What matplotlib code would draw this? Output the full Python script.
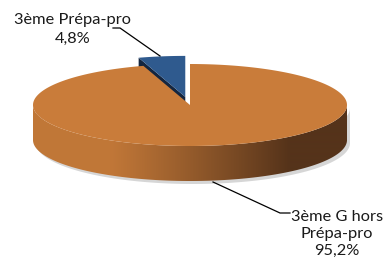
import numpy as np
import matplotlib
matplotlib.use("Agg")
import matplotlib.pyplot as plt
from matplotlib.patches import Polygon

# data (first slice starts at 12 o'clock, clockwise like Excel)
categories = ["3ème G hors\nPrépa-pro", "3ème Prépa-pro"]
values = [95.2, 4.8]
pct_labels = ["95,2%", "4,8%"]
explode = [0.0, 0.2]

top_colors = ["#C97C3A", "#2F5A8E"]
side_dark = ["#55331A", "#142640"]

# geometry of the fake 3d pie, in pixel coords
cx, cy = 190, 105
a, b = 157, 41
depth = 35

fig = plt.figure(figsize=(3.9, 2.62), dpi=100)
ax = fig.add_axes([0, 0, 1, 1])
ax.set_xlim(0, 390)
ax.set_ylim(262, 0)
ax.axis("off")


def pt(t, ox, oy, dz=0):
    return cx + ox + a * np.cos(t), cy + oy - b * np.sin(t) + dz


# slice angles (math convention, degrees)
total = sum(values)
spans = []
start = 90.0
for v in values:
    sweep = 360.0 * v / total
    spans.append((start - sweep, start))
    start -= sweep

orange_rgb = np.array(matplotlib.colors.to_rgb(top_colors[0]))
dark_rgb = np.array(matplotlib.colors.to_rgb(side_dark[0]))

# soft shadow under the front wall
ts = np.radians(np.linspace(180, 360, 120))
sx = cx + 3 + a * np.cos(ts)
sy = cy + 3 - b * np.sin(ts) + depth
shadow = list(zip(sx, sy)) + list(zip(sx[::-1], sy[::-1] - depth))
ax.add_patch(Polygon(shadow, closed=True, facecolor="#BBBBBB", edgecolor="none",
                     alpha=0.6, zorder=1))

# draw back slice (blue) first, then big slice in front
order = [1, 0]
for i in order:
    t0, t1 = spans[i]
    mid = np.radians((t0 + t1) / 2)
    ox = a * explode[i] * np.cos(mid)
    oy = -b * explode[i] * np.sin(mid)
    if t1 < t0:
        t0, t1 = t1, t0
    th = np.radians(np.linspace(t0, t1, 300))

    # radial wall on the left edge of the small slice
    if i == 1:
        e = np.radians(t1)
        p_out = pt(e, ox, oy)
        p_c = (cx + ox, cy + oy)
        wall = [p_c, p_out, (p_out[0], p_out[1] + depth), (p_c[0], p_c[1] + depth)]
        ax.add_patch(Polygon(wall, closed=True, facecolor=side_dark[i],
                             edgecolor="none", zorder=2))

    # outer wall, front half only, shaded left to right
    if i == 0:
        tt = np.radians(np.linspace(180, 360, 200))
        upper = [pt(t, ox, oy) for t in tt]
        lower = [pt(t, ox, oy, depth) for t in tt[::-1]]
        side = Polygon(upper + lower, closed=True, facecolor="none",
                       edgecolor="none", zorder=3)
        ax.add_patch(side)
        gx = np.linspace(0, 390, 390)
        f = np.clip((gx - 110) / (290 - 110), 0, 1) ** 1.1
        grad = (orange_rgb * 0.96)[None, :] * (1 - f)[:, None] + dark_rgb[None, :] * f[:, None]
        img = ax.imshow(grad[None, :, :], extent=(0, 390, 262, 0), aspect="auto",
                        interpolation="bilinear", zorder=3)
        img.set_clip_path(side)

    # top face
    xs = cx + ox + a * np.cos(th)
    ys = cy + oy - b * np.sin(th)
    verts = [(cx + ox, cy + oy)] + list(zip(xs, ys))
    ax.add_patch(Polygon(verts, closed=True, facecolor=top_colors[i],
                         edgecolor="none", zorder=4 if i == 0 else 2.5))

ax.set_xlim(0, 390)
ax.set_ylim(262, 0)

# labels with leader lines
font = dict(family=["Lato", "DejaVu Sans"], fontsize=11.8, color="#1A1A1A")
ax.text(73, 29, categories[1] + "\n" + pct_labels[1], ha="center", va="center",
        linespacing=1.45, zorder=6, **font)
ax.plot([113, 120, 160], [28, 28, 56], color="black", lw=0.9, zorder=6)

ax.text(337, 234, categories[0] + "\n" + pct_labels[0], ha="center", va="center",
        linespacing=1.3, zorder=6, **font)
ax.plot([213, 280, 290], [182, 213, 213], color="black", lw=0.9, zorder=6)

fig.savefig("out.png", dpi=100)
